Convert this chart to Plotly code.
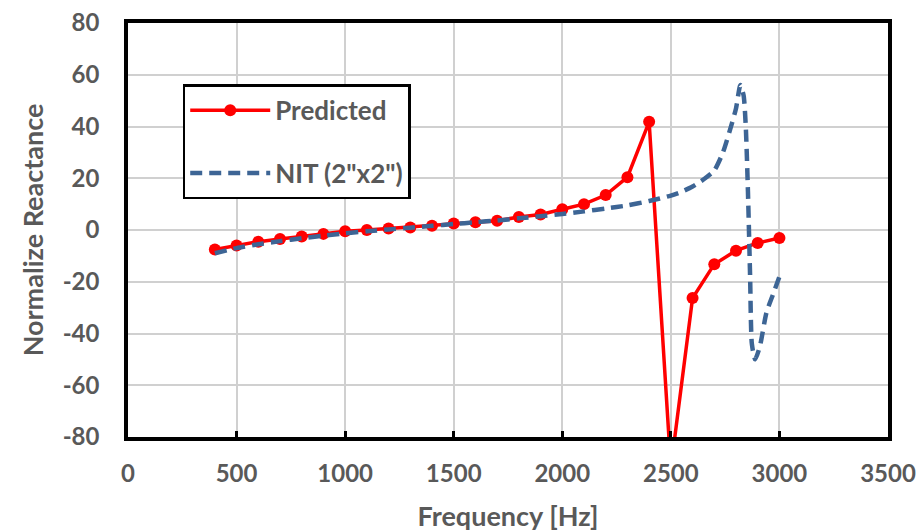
import plotly.graph_objects as go

pred_freq = [400, 500, 600, 700, 800, 900, 1000, 1100, 1200, 1300, 1400, 1500, 1600,
             1700, 1800, 1900, 2000, 2100, 2200, 2300, 2400, 2500, 2600, 2700, 2800,
             2900, 3000]
pred_val = [-7.5, -6, -4.5, -3.5, -2.5, -1.5, -0.5, 0, 0.6, 1, 1.6, 2.5, 3, 3.6,
            5, 6, 8, 10, 13.5, 20.4, 41.8, -92, -26.3, -13.2, -8, -5, -3.1]

nit_freq = [400, 500, 600, 700, 800, 900, 1000, 1100, 1200, 1300, 1400, 1500, 1600,
            1700, 1800, 1900, 2000, 2100, 2200, 2300, 2400, 2500, 2550, 2600, 2650,
            2700, 2740, 2770, 2800, 2820, 2835, 2845, 2855, 2865, 2873, 2888, 2910,
            2940, 2970, 3000]
nit_val = [-9, -7, -5.5, -4.3, -3.2, -2.2, -1.3, -0.5, 0.2, 0.9, 1.6, 2.3, 3, 3.7,
           4.5, 5.3, 6.2, 7.2, 8.3, 9.5, 11.2, 13.3, 14.8, 16.8, 19.5, 23, 30, 38,
           47, 56, 52, 40, 15, -18, -44, -50, -45, -32, -25, -18]

x_ticks = [0, 500, 1000, 1500, 2000, 2500, 3000, 3500]
y_ticks = [-80, -60, -40, -20, 0, 20, 40, 60, 80]

FONT = "Lato"
GRAY = "#595959"

fig = go.Figure()
fig.add_trace(go.Scatter(
    x=pred_freq, y=pred_val, name="Predicted", mode="lines+markers",
    line=dict(color="#ff0000", width=3.5),
    marker=dict(color="#ff0000", size=12),
    legendgroup="a",
))
fig.add_trace(go.Scatter(
    x=nit_freq, y=nit_val, name='NIT (2"x2")', mode="lines",
    line=dict(color="#3d6595", width=4.5, dash="12px,7px", shape="spline", smoothing=0.6),
    legendgroup="b",
))

fig.update_layout(
    width=920, height=532,
    margin=dict(l=128, r=32, t=23, b=95),
    paper_bgcolor="white", plot_bgcolor="white",
    font=dict(family=FONT, color=GRAY, size=22),
    showlegend=True,
    legend=dict(
        x=0.072, y=0.852, xanchor="left", yanchor="top",
        bgcolor="white", bordercolor="black", borderwidth=2.5,
        font=dict(family=FONT, size=26, color=GRAY, weight="bold"),
        tracegroupgap=26, itemwidth=80, entrywidth=240, entrywidthmode="pixels",
    ),
)
fig.update_xaxes(
    range=[0, 3500], tickvals=x_ticks, ticktext=[str(v) for v in x_ticks],
    showgrid=True, gridcolor="#d0d0d0", gridwidth=2,
    showline=True, linecolor="black", linewidth=3.5, mirror=True,
    ticks="inside", ticklen=6, tickwidth=2.5, tickcolor="black",
    zeroline=False, automargin=False,
    tickfont=dict(family=FONT, size=24, color=GRAY, weight="bold"),
    ticklabelstandoff=12,
    title=dict(text="Frequency [Hz]", font=dict(family=FONT, size=27, color=GRAY, weight="bold"),
               standoff=26),
)
fig.update_yaxes(
    range=[-80, 80], tickvals=y_ticks, ticktext=[str(v) for v in y_ticks],
    showgrid=True, gridcolor="#d0d0d0", gridwidth=2,
    showline=True, linecolor="black", linewidth=3.5, mirror=True,
    ticks="", zeroline=False, automargin=False,
    tickfont=dict(family=FONT, size=24, color=GRAY, weight="bold"),
    ticklabelstandoff=20,
    title=dict(text="Normalize Reactance", font=dict(family=FONT, size=27, color=GRAY, weight="bold"),
               standoff=12),
)

fig.write_html("out.html")
